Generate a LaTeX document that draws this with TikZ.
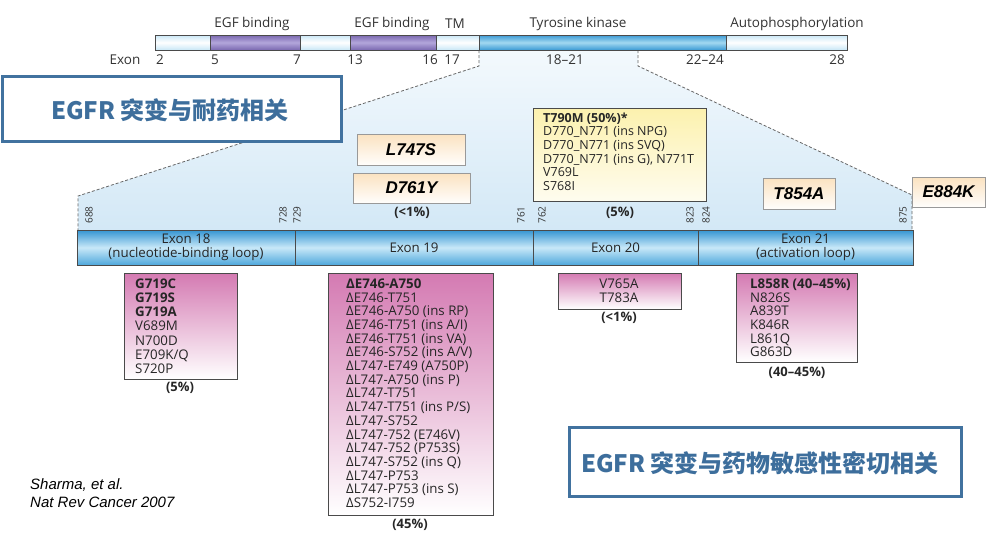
\documentclass[tikz,border=0pt]{standalone}
\usepackage{fontspec}
\setmainfont{Open Sans}
\newfontfamily\cjk{Noto Sans CJK SC}
\newfontfamily\arialf{Liberation Sans}
\newcommand\myfs[2]{\fontsize{#1}{#2}\selectfont}
\definecolor{steel}{HTML}{41729F}
\definecolor{steeltext}{HTML}{3D6E9C}
\definecolor{lseg}{HTML}{C9E7F6}
\definecolor{pseg}{HTML}{7A68B0}
\definecolor{psegmid}{HTML}{B3A6DB}
\definecolor{bseg}{HTML}{3B9AD4}
\definecolor{bsegmid}{HTML}{A3D8F1}
\definecolor{ebartop}{HTML}{3495D2}
\definecolor{ebarmid}{HTML}{C8E8F8}
\definecolor{ebarbot}{HTML}{4FA8DC}
\definecolor{zoomtop}{HTML}{F3F9FD}
\definecolor{zoombot}{HTML}{D3E8F6}
\definecolor{pinktop}{HTML}{D47AB2}
\definecolor{peachtop}{HTML}{FBE2C0}
\definecolor{yeltop}{HTML}{FCF1AE}
\definecolor{edge}{HTML}{4A4A4A}
\tikzset{
  seg/.style={draw=edge, line width=0.6pt, inner sep=0pt, outer sep=0pt, minimum height=15, anchor=north west},
  lightseg/.style={seg, top color=lseg, bottom color=lseg, middle color=white},
  purpseg/.style={seg, top color=pseg, bottom color=pseg, middle color=psegmid},
  blueseg/.style={seg, top color=bseg, bottom color=bseg, middle color=bsegmid},
  exonseg/.style={draw=edge, line width=0.6pt, inner sep=0pt, outer sep=0pt, minimum height=35, anchor=north west,
     top color=ebartop, bottom color=ebarbot, middle color=ebarmid, align=center, font=\myfs{13.3}{14}, text=black!85},
  toplab/.style={font=\myfs{13.5}{15}, text=black!80, inner sep=0pt},
  numlab/.style={font=\myfs{10}{11}, rotate=90, inner sep=0pt, text=black!80},
  pct/.style={font=\myfs{13}{15}\bfseries, inner sep=0pt, text=black!85},
  dashln/.style={draw=black!60, dashed, dash pattern=on 3pt off 2pt, line width=0.8pt},
  mutbox/.style={draw=black!40, line width=0.8pt, top color=peachtop, bottom color=white!95!peachtop, inner sep=0pt,
     font=\arialf\myfs{17}{20}\bfseries\itshape},
  pinkbox/.style={draw=edge, line width=0.8pt, top color=pinktop, bottom color=white, inner sep=0pt, outer sep=0pt, anchor=north west},
  listtxt/.style={font=\myfs{13.3}{13.7}, align=left, inner sep=0pt, anchor=north west, text=black!85},
  titlebox/.style={draw=steel, line width=2.5pt, fill=white, inner sep=0pt, anchor=north west},
  titletxt/.style={font=\cjk\myfs{24}{26}\bfseries, text=steeltext, inner sep=0pt},
  cite/.style={font=\arialf\myfs{15}{18}\itshape, align=left, inner sep=0pt, anchor=north west}
}
\begin{document}
\begin{tikzpicture}[x=1pt,y=-1pt]
\useasboundingbox (0,0) rectangle (988,533);
\fill[white] (0,0) rectangle (988,533);

% zoom region
\coordinate (tl) at (479,50); \coordinate (tlk) at (479,66);
\coordinate (bl) at (78,196); \coordinate (blb) at (78,230);
\coordinate (tr) at (638,50); \coordinate (trk) at (638,66);
\coordinate (br) at (912,195); \coordinate (brb) at (912,230);
\shade[top color=zoomtop, bottom color=zoombot] (tl) -- (tlk) -- (bl) -- (blb) -- (brb) -- (br) -- (trk) -- (tr) -- cycle;
\draw[dashln] (tl) -- (tlk) -- (bl) -- (blb);
\draw[dashln] (tr) -- (trk) -- (br) -- (brb);

% top bar
\node[lightseg, minimum width=55] (s1) at (155,35) {};
\node[purpseg, minimum width=90] (s2) at (210,35) {};
\node[lightseg, minimum width=50] (s3) at (300,35) {};
\node[purpseg, minimum width=86] (s4) at (350,35) {};
\node[lightseg, minimum width=43] (s5) at (436,35) {};
\node[blueseg, minimum width=247] (s6) at (479,35) {};
\node[lightseg, minimum width=121] (s7) at (726,35) {};

\node[toplab] (egf1) at (252,24) {EGF binding};
\node[toplab] (egf2) at (392,24) {EGF binding};
\node[toplab] (tm) at (455,24) {TM};
\node[toplab] (tk) at (578,24) {Tyrosine kinase};
\node[toplab] (auto) at (797,24) {Autophosphorylation};

\node[toplab] (exw) at (125,60) {Exon};
\node[toplab] (x2) at (160,60) {2};
\node[toplab] (x5) at (215,60) {5};
\node[toplab] (x7) at (297,60) {7};
\node[toplab] (x13) at (355,60) {13};
\node[toplab] (x16) at (430,60) {16};
\node[toplab] (x17) at (452,60) {17};
\node[toplab] (x1821) at (565,60) {18--21};
\node[toplab] (x2224) at (705,60) {22--24};
\node[toplab] (x28) at (837,60) {28};

% exon bar
\node[exonseg, minimum width=218] (e18) at (77,230) {Exon 18\\(nucleotide-binding loop)};
\node[exonseg, minimum width=238] (e19) at (295,230) {Exon 19};
\node[exonseg, minimum width=165] (e20) at (533,230) {Exon 20};
\node[exonseg, minimum width=215] (e21) at (698,230) {Exon 21\\(activation loop)};

\node[numlab] (n688) at (89,215) {688};
\node[numlab] (n728) at (283,215) {728};
\node[numlab] (n729) at (297,215) {729};
\node[numlab] (n761) at (521,215) {761};
\node[numlab] (n762) at (542,215) {762};
\node[numlab] (n823) at (690,215) {823};
\node[numlab] (n824) at (706,215) {824};
\node[numlab] (n875) at (903,215) {875};

\node[pct] (p19a) at (412,213) {(<1\%)};
\node[pct] (p20a) at (620,213) {(5\%)};

% resistance mutation boxes
\node[mutbox, minimum width=108, minimum height=31] (l747s) at (411,149.5) {L747S};
\node[mutbox, minimum width=117, minimum height=30] (d761y) at (411.5,188) {D761Y};
\node[mutbox, minimum width=72, minimum height=31] (t854a) at (799,193.5) {T854A};
\node[mutbox, minimum width=73, minimum height=30] (e884k) at (948.5,192) {E884K};

\node[draw=edge, line width=0.8pt, top color=yeltop, bottom color=white!80!yeltop, inner sep=0pt, outer sep=0pt,
      anchor=north west, minimum width=173, minimum height=93] (t790box) at (533,108) {};
\node[listtxt, font=\myfs{12.5}{13.6}] (t790txt) at (543,112.5) {\textbf{T790M (50\%)*}\\D770\_N771 (ins NPG)\\D770\_N771 (ins SVQ)\\D770\_N771 (ins G), N771T\\V769L\\S768I};

% pink boxes
\node[pinkbox, minimum width=113, minimum height=106] (b18) at (124,273) {};
\node[listtxt, font=\myfs{13.3}{14.2}] (t18) at (135,278.5) {\textbf{G719C}\\\textbf{G719S}\\\textbf{G719A}\\V689M\\N700D\\E709K/Q\\S720P};
\node[pct] (p18) at (180,388) {(5\%)};

\node[pinkbox, minimum width=165, minimum height=242] (b19) at (328,273) {};
\node[listtxt] (t19) at (346,278.5) {\textbf{ΔE746-A750}\\ΔE746-T751\\ΔE746-A750 (ins RP)\\ΔE746-T751 (ins A/I)\\ΔE746-T751 (ins VA)\\ΔE746-S752 (ins A/V)\\ΔL747-E749 (A750P)\\ΔL747-A750 (ins P)\\ΔL747-T751\\ΔL747-T751 (ins P/S)\\ΔL747-S752\\ΔL747-752 (E746V)\\ΔL747-752 (P753S)\\ΔL747-S752 (ins Q)\\ΔL747-P753\\ΔL747-P753 (ins S)\\ΔS752-I759};
\node[pct] (p19) at (410,525) {(45\%)};

\node[pinkbox, minimum width=123, minimum height=36] (b20) at (558,273) {};
\node[listtxt, align=center, anchor=north] (t20) at (619,278.5) {V765A\\T783A};
\node[pct] (p20) at (619,318) {(<1\%)};

\node[pinkbox, minimum width=121, minimum height=89] (b21) at (736,273) {};
\node[listtxt] (t21) at (750,278.5) {\textbf{L858R (40--45\%)}\\N826S\\A839T\\K846R\\L861Q\\G863D};
\node[pct] (p21) at (797,373) {(40--45\%)};

% title boxes
\node[titlebox, minimum width=339, minimum height=65] (tbox1) at (1,75) {};
\node[titletxt] (ttxt1) at (170,110) {EGFR 突变与耐药相关};
\node[titlebox, minimum width=392, minimum height=69] (tbox2) at (568,426) {};
\node[titletxt] (ttxt2) at (760,463) {EGFR 突变与药物敏感性密切相关};

% citation
\node[cite] (cite) at (30,478) {Sharma, et al.\\Nat Rev Cancer 2007};
\end{tikzpicture}
\end{document}
